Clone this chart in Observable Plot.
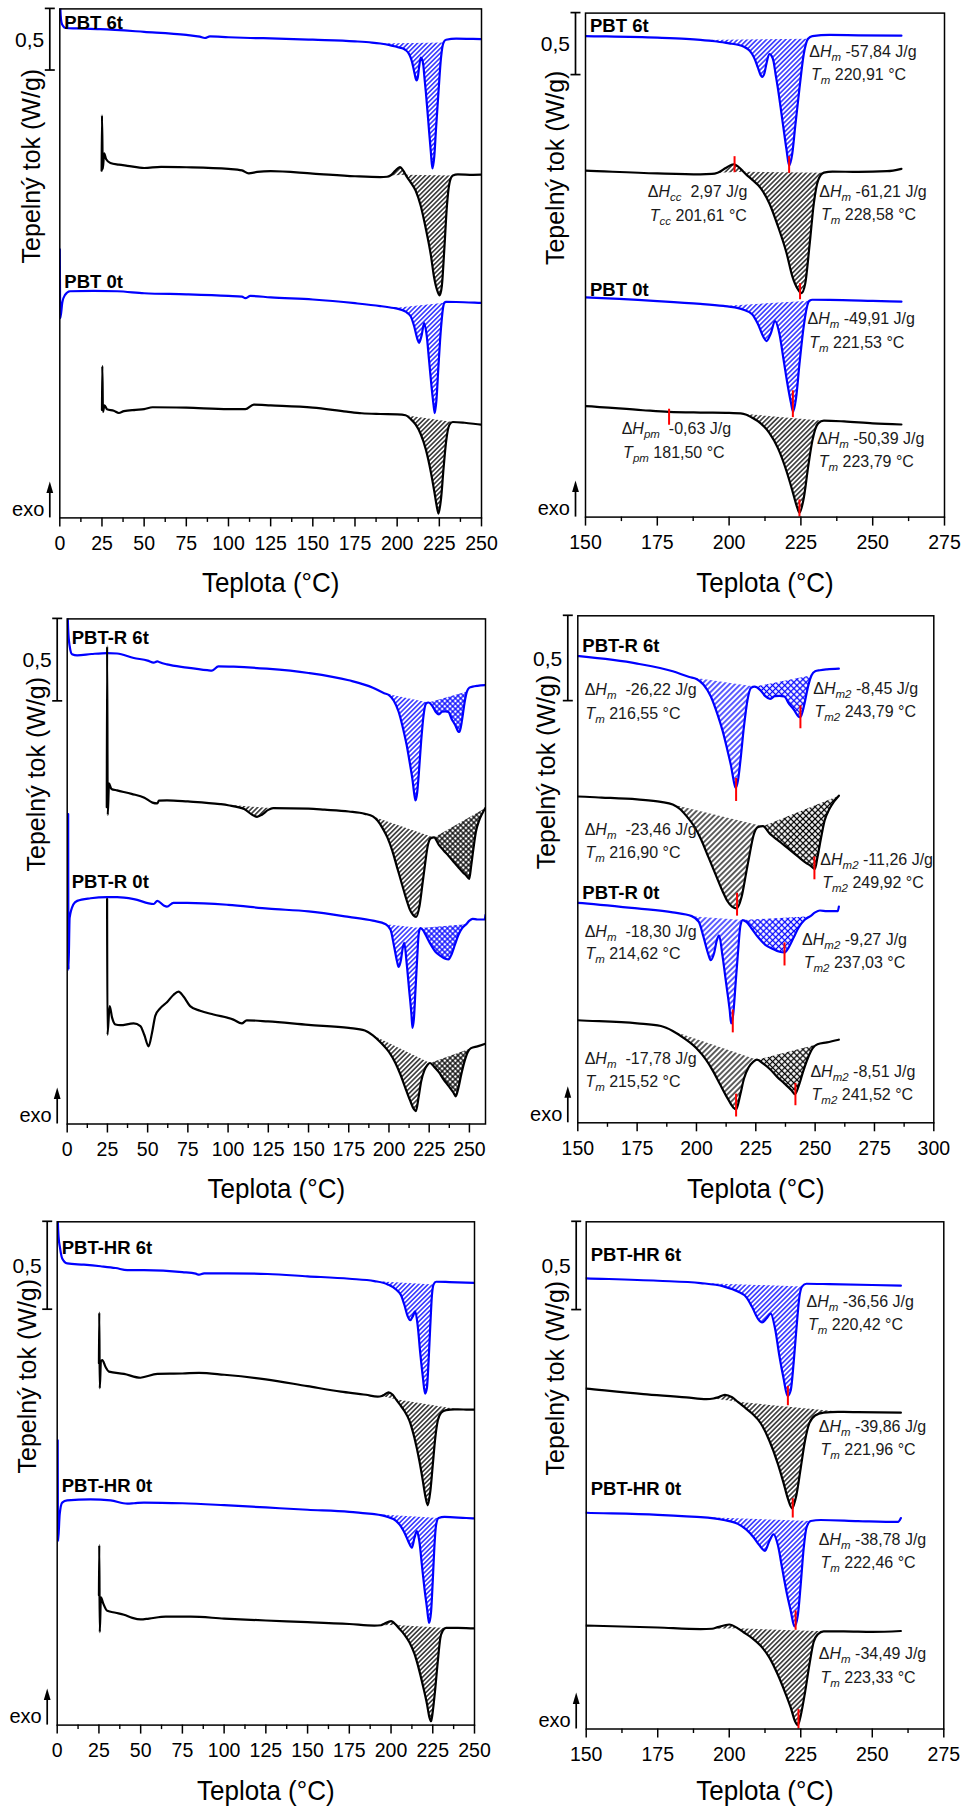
<!DOCTYPE html>
<html><head><meta charset="utf-8">
<script src="https://cdn.jsdelivr.net/npm/d3@7"></script>
<script src="https://cdn.jsdelivr.net/npm/@observablehq/plot@0.6"></script>
<style>
body{margin:0;background:#fff;}
#root{position:relative;width:966px;height:1807px;overflow:hidden;}
</style></head><body><div id="root"></div>
<script>
// ---------------- DATA (temperature °C, heat flow W/g, curves offset as in the figure) ----------------
const ticksLeft  = [0,25,50,75,100,125,150,175,200,225,250];
const ticksRight = [150,175,200,225,250,275];
const ticksWide  = [150,175,200,225,250,275,300];

// PBT
const pbt6tBlue = [[0,4.25],[0.5,4.08],[1,4.02],[2,3.99],[3.4,3.975],[10,3.972],[24,3.966],[50,3.944],[75,3.919],[83,3.905],[86,3.894],[89,3.907],[100,3.9],[113,3.894],[125,3.891],[150,3.88],[175,3.867],[185,3.857],[190,3.849],[195,3.838],[200,3.821],[203,3.81],[205,3.796],[207,3.765],[208,3.735],[209,3.69],[210,3.627],[211,3.565],[211.5,3.55],[212.3,3.58],[213,3.657],[214,3.735],[214.8,3.72],[215.5,3.673],[216.2,3.57],[217,3.457],[218.5,3.21],[220,2.963],[220.9,2.835],[222,2.932],[223,3.148],[224.5,3.457],[226,3.735],[227.5,3.858],[229,3.88],[235,3.889],[245,3.886],[260,3.883]];
const pbt6tBlack = [[24.8,2.817],[25,3.267],[25.5,2.832],[26.3,2.957],[27.5,2.91],[30,2.88],[35,2.866],[40,2.857],[50,2.839],[60,2.848],[75,2.845],[100,2.832],[108,2.82],[112,2.795],[117,2.807],[125,2.814],[150,2.794],[175,2.772],[190,2.765],[194,2.768],[196,2.778],[199,2.818],[201.6,2.846],[204,2.809],[205,2.785],[206,2.762],[208,2.722],[211,2.654],[214,2.531],[217,2.346],[220,2.13],[222,1.944],[224,1.836],[225.2,1.806],[226.5,1.883],[228,2.191],[229.5,2.531],[231,2.716],[233,2.778],[236,2.787],[245,2.784],[255,2.79],[260,2.809]];
const pbt0tBlue = [[0,2.18],[0.3,1.621],[1.5,1.75],[3,1.807],[6,1.839],[20,1.842],[34,1.839],[50,1.823],[75,1.814],[100,1.801],[108,1.795],[110,1.783],[113,1.801],[125,1.789],[150,1.772],[175,1.742],[190,1.719],[198,1.703],[200,1.698],[205,1.673],[208,1.636],[210,1.559],[212,1.451],[213,1.42],[214.5,1.481],[216,1.58],[217.5,1.481],[219,1.265],[220.5,1.049],[221.5,0.926],[222.3,0.849],[223.3,0.957],[224.5,1.235],[226,1.543],[227.5,1.728],[228,1.745],[229,1.753],[235,1.752],[250,1.744],[260,1.738]];
const pbt0tBlack = [[25,0.876],[25.2,1.233],[25.6,0.86],[26.5,0.913],[28,0.882],[32,0.87],[35,0.851],[38,0.866],[45,0.876],[50,0.882],[55,0.898],[75,0.894],[100,0.882],[110,0.882],[115,0.919],[125,0.913],[150,0.895],[170,0.862],[179,0.849],[190,0.843],[200,0.84],[205,0.833],[208,0.802],[211,0.756],[214,0.679],[217,0.556],[220,0.37],[222,0.216],[223.5,0.093],[224.5,0.035],[226,0.154],[227.5,0.401],[229,0.617],[231,0.756],[233,0.778],[240,0.772],[250,0.756],[260,0.747]];
const pbtPeaks = [[0,190,227.5,"line"],[1,196,205,"line"],[1,205,233,"line"],[2,198,228,"line"],[3,205,233,"line"]];
const pbtReds = [[201.9,2.907,2.778],[220.9,2.907,2.772],[224.7,1.883,1.753],[222.2,1.019,0.802],[179.1,0.87,0.741],[224.5,0.139,0.0]];
const pbtNotes = [
 [227.9,3.75,"Δ<i>H</i><sub>m</sub> -57,84 J/g"],[228.5,3.565,"<i>T</i><sub>m</sub> 220,91 °C"],
 [171.7,2.623,"Δ<i>H</i><sub>cc</sub>  2,97 J/g"],[172.4,2.429,"<i>T</i><sub>cc</sub> 201,61 °C"],
 [231.4,2.623,"Δ<i>H</i><sub>m</sub> -61,21 J/g"],[232,2.438,"<i>T</i><sub>m</sub> 228,58 °C"],
 [227.3,1.596,"Δ<i>H</i><sub>m</sub> -49,91 J/g"],[227.9,1.404,"<i>T</i><sub>m</sub> 221,53 °C"],
 [162.6,0.71,"Δ<i>H</i><sub>pm</sub>  -0,63 J/g"],[163.1,0.515,"<i>T</i><sub>pm</sub> 181,50 °C"],
 [230.6,0.633,"Δ<i>H</i><sub>m</sub> -50,39 J/g"],[231.2,0.448,"<i>T</i><sub>m</sub> 223,79 °C"]];

// PBT-R
const pbtr6tBlue = [[0,3.2],[0.6,3.0],[1.5,2.9],[3,2.849],[6.2,2.842],[15,2.85],[24.8,2.856],[31,2.853],[41.4,2.826],[50,2.81],[53.8,2.798],[56,2.806],[57.5,2.8],[62,2.787],[74.5,2.768],[87,2.752],[90,2.749],[94,2.775],[103.5,2.773],[124,2.761],[150,2.735],[175,2.691],[190,2.646],[197,2.612],[200,2.601],[203,2.567],[206,2.5],[209,2.388],[211,2.298],[213,2.186],[214.5,2.096],[216,1.984],[216.5,1.962],[217.5,2.007],[218.5,2.119],[220,2.321],[221.5,2.478],[223,2.549],[224.5,2.556],[227,2.534],[229,2.5],[231,2.484],[233,2.5],[235,2.502],[237,2.498],[239,2.455],[241,2.422],[243,2.381],[243.8,2.377],[245.5,2.455],[247,2.556],[248.5,2.623],[250,2.646],[252,2.652],[255,2.657],[260,2.661]];
const pbtr6tBlack = [[24.6,1.921],[24.8,2.896],[25.2,1.875],[26,2.065],[27.5,2.032],[31,2.023],[40,2.002],[48,1.979],[53,1.949],[56,1.944],[57,1.961],[62,1.963],[75,1.956],[95,1.94],[100,1.933],[110,1.91],[115,1.875],[118,1.863],[121,1.875],[125,1.905],[128,1.915],[150,1.912],[160,1.906],[175,1.895],[185,1.881],[190,1.865],[193,1.839],[196,1.794],[199,1.738],[202,1.659],[205,1.558],[208,1.457],[211,1.357],[213,1.3],[215,1.267],[216.9,1.256],[219,1.323],[221,1.469],[222.5,1.581],[224,1.682],[226,1.733],[228,1.738],[231,1.693],[234,1.659],[237,1.626],[240,1.592],[243,1.558],[246,1.525],[248,1.507],[249.9,1.487],[251,1.558],[252.5,1.67],[254,1.771],[256,1.839],[258,1.883],[260,1.917]];
const pbtr0tBlue = [[0.6,1.88],[0.8,0.935],[1.5,1.25],[3.7,1.329],[6.2,1.353],[14.5,1.369],[24.8,1.376],[31,1.376],[41.4,1.364],[53.8,1.334],[56,1.353],[60,1.325],[62,1.318],[66,1.341],[74.5,1.341],[100,1.329],[125,1.306],[150,1.289],[175,1.256],[190,1.233],[198,1.211],[201,1.177],[203,1.087],[205,0.987],[206,0.953],[207.5,0.998],[208.5,1.065],[209.5,1.099],[211,0.975],[212.5,0.818],[214,0.661],[214.6,0.583],[215.5,0.639],[216.5,0.818],[217.5,0.998],[218.5,1.155],[219.5,1.188],[221,1.177],[223,1.143],[226,1.087],[229,1.043],[232,1.02],[235,1.002],[237,0.998],[239,1.031],[241,1.087],[243,1.143],[245.5,1.188],[248,1.211],[250,1.233],[252,1.244],[255,1.24],[259.5,1.24],[260,1.267]];
const pbtr0tBlack = [[24.8,1.364],[25,0.541],[26.4,0.715],[27.9,0.645],[30,0.603],[33,0.599],[41.3,0.61],[45.5,0.594],[47.9,0.541],[50.6,0.471],[52.7,0.552],[54.8,0.657],[57.9,0.703],[62,0.738],[66.1,0.784],[69.2,0.803],[72.3,0.773],[76.4,0.715],[82.6,0.687],[90.9,0.664],[103.3,0.633],[108.5,0.61],[111.6,0.629],[124.8,0.622],[150,0.601],[175,0.583],[185,0.567],[190,0.538],[195,0.493],[200,0.437],[204,0.37],[207,0.303],[210,0.224],[213,0.146],[215.5,0.09],[216.7,0.078],[218.5,0.168],[220,0.258],[222,0.325],[224,0.359],[225.5,0.37],[228,0.348],[231,0.314],[234,0.269],[237,0.231],[240,0.191],[241.5,0.168],[243,0.213],[245,0.303],[247,0.381],[249,0.437],[251,0.46],[255,0.471],[260,0.487]];
const pbtrPeaks = [[0,197,224.5,"line"],[0,224.5,248.5,"cross"],[1,95,128,"line"],[1,190,228,"line"],[1,228,260,"cross"],[2,198,219.5,"line"],[2,219.5,248,"cross"],[3,190,225.5,"line"],[3,225.5,251,"cross"]];
const pbtrReds = [[216.7,2.018,1.883],[243.8,2.444,2.309],[217.1,1.345,1.211],[249.7,1.558,1.424],[215.3,0.661,0.527],[237.1,1.054,0.919],[216.7,0.168,0.034],[241.7,0.231,0.10]];
const pbtrNotes = [
 [152.9,2.534,"Δ<i>H</i><sub>m</sub>  -26,22 J/g"],[153.2,2.399,"<i>T</i><sub>m</sub> 216,55 °C"],
 [249.2,2.54,"Δ<i>H</i><sub>m2</sub> -8,45 J/g"],[249.7,2.406,"<i>T</i><sub>m2</sub> 243,79 °C"],
 [152.9,1.715,"Δ<i>H</i><sub>m</sub>  -23,46 J/g"],[153.2,1.581,"<i>T</i><sub>m</sub> 216,90 °C"],
 [252.2,1.54,"Δ<i>H</i><sub>m2</sub> -11,26 J/g"],[253,1.406,"<i>T</i><sub>m2</sub> 249,92 °C"],
 [152.9,1.121,"Δ<i>H</i><sub>m</sub>  -18,30 J/g"],[153.2,0.987,"<i>T</i><sub>m</sub> 214,62 °C"],
 [244.5,1.07,"Δ<i>H</i><sub>m2</sub> -9,27 J/g"],[245.2,0.935,"<i>T</i><sub>m2</sub> 237,03 °C"],
 [152.9,0.377,"Δ<i>H</i><sub>m</sub>  -17,78 J/g"],[153.2,0.242,"<i>T</i><sub>m</sub> 215,52 °C"],
 [248,0.298,"Δ<i>H</i><sub>m2</sub> -8,51 J/g"],[248.5,0.161,"<i>T</i><sub>m2</sub> 241,52 °C"]];

// PBT-HR
const pbthr6tBlue = [[0,3.1],[0.3,2.9],[0.8,2.78],[1.6,2.72],[3,2.654],[6,2.626],[16,2.619],[26,2.61],[35,2.6],[42,2.588],[52,2.588],[75,2.577],[83,2.568],[85,2.562],[88,2.57],[102,2.57],[126,2.566],[150,2.553],[175,2.539],[190,2.526],[198,2.507],[203,2.478],[206,2.445],[208,2.39],[210,2.325],[211.5,2.303],[213,2.325],[214.5,2.353],[216,2.27],[217.5,2.116],[219,1.985],[220.4,1.886],[221.5,1.919],[222.5,2.072],[223.5,2.27],[224.5,2.445],[225.5,2.507],[227,2.522],[235,2.52],[250,2.515],[260,2.511]];
const pbthr6tBlack = [[25,2.059],[25.2,2.346],[25.5,1.916],[26.2,2.07],[27,2.077],[29,2.037],[31,2.011],[40,1.998],[50,1.976],[52,1.98],[60,1.998],[75,2.0],[85,2.004],[100,1.993],[125,1.967],[150,1.928],[170,1.897],[185,1.879],[192,1.868],[194.5,1.872],[196,1.879],[198.5,1.893],[201,1.879],[203,1.853],[205,1.827],[208,1.787],[211,1.732],[214,1.634],[217,1.502],[219,1.393],[220.5,1.305],[222,1.25],[223.5,1.327],[225,1.48],[226.5,1.634],[228,1.732],[230,1.776],[233,1.792],[238,1.796],[240,1.796],[245,1.795],[260,1.792]];
const pbthr0tBlue = [[0.3,1.62],[0.5,1.046],[1.5,1.2],[3,1.266],[6,1.278],[20,1.284],[32,1.278],[42,1.26],[46,1.262],[52,1.266],[75,1.262],[100,1.251],[125,1.238],[150,1.225],[175,1.213],[185,1.204],[190,1.2],[198,1.184],[203,1.162],[206,1.129],[208.5,1.086],[210.5,1.042],[212.5,1.009],[214,1.064],[215.5,1.103],[217,1.042],[218.5,0.91],[220,0.779],[221.5,0.669],[222.8,0.581],[224,0.647],[225,0.822],[226,1.02],[227,1.14],[228.5,1.178],[232,1.184],[245,1.178],[259,1.173],[260,1.195]];
const pbthr0tBlack = [[25,0.738],[25.2,1.024],[25.5,0.529],[26.2,0.727],[27.5,0.694],[30,0.65],[35,0.639],[40,0.628],[45,0.61],[50,0.601],[55,0.606],[65,0.617],[80,0.617],[100,0.606],[125,0.595],[150,0.586],[175,0.575],[190,0.566],[194,0.568],[196,0.577],[200,0.592],[203,0.57],[205,0.548],[208,0.515],[211,0.471],[214,0.406],[217,0.307],[219.5,0.208],[221.5,0.121],[223,0.044],[224,0.022],[225,0.077],[226.5,0.208],[228,0.362],[229.5,0.493],[231,0.537],[233,0.553],[240,0.553],[250,0.55],[260,0.555]];
const pbthrPeaks = [[0,190,225.5,"line"],[1,194.5,203,"line"],[1,203,240,"line"],[2,185,228.5,"line"],[3,194,203,"line"],[3,203,233,"line"]];
const pbthrReds = [[220.5,1.941,1.831],[222.2,1.305,1.195],[223.2,0.669,0.559],[224.2,0.11,0.0]];
const pbthrNotes = [
 [227,2.419,"Δ<i>H</i><sub>m</sub> -36,56 J/g"],[227.5,2.287,"<i>T</i><sub>m</sub> 220,42 °C"],
 [231.3,1.711,"Δ<i>H</i><sub>m</sub> -39,86 J/g"],[231.9,1.579,"<i>T</i><sub>m</sub> 221,96 °C"],
 [231.3,1.07,"Δ<i>H</i><sub>m</sub> -38,78 J/g"],[231.9,0.939,"<i>T</i><sub>m</sub> 222,46 °C"],
 [231.3,0.423,"Δ<i>H</i><sub>m</sub> -34,49 J/g"],[231.9,0.292,"<i>T</i><sub>m</sub> 223,33 °C"]];

// ---------------- STYLE / LAYOUT ----------------
const BLUE = "#0000ff", BLACK = "#000000", RED = "#ff0000";
const FONT = '"Liberation Sans", Arial, Helvetica, sans-serif';

const samples = {
  "PBT":    {curves: [[pbt6tBlue, BLUE], [pbt6tBlack, BLACK], [pbt0tBlue, BLUE], [pbt0tBlack, BLACK]], peaks: pbtPeaks},
  "PBT-R":  {curves: [[pbtr6tBlue, BLUE], [pbtr6tBlack, BLACK], [pbtr0tBlue, BLUE], [pbtr0tBlack, BLACK]], peaks: pbtrPeaks},
  "PBT-HR": {curves: [[pbthr6tBlue, BLUE], [pbthr6tBlack, BLACK], [pbthr0tBlue, BLUE], [pbthr0tBlack, BLACK]], peaks: pbthrPeaks}
};

const panels = [
 {sample:"PBT", left:0, top:0, width:490, height:600, mt:8.4, mr:9, mb:82.6, ml:59.3, xDomain:[0,250], yMax:4.13, ticks:ticksLeft, labels:[["PBT 6t",4.019],["PBT 0t",1.916]], ylabDx:-28.3, titleDy:73.8, hatch:3.3},
 {sample:"PBT", left:490, top:0, width:476, height:600, mt:12.6, mr:22, mb:83.4, ml:95, xDomain:[150,275], yMax:4.065, ticks:ticksRight, labels:[["PBT 6t",3.957],["PBT 0t",1.83]], ylabDx:-30, titleDy:74.6, notes:pbtNotes, reds:pbtReds, hatch:3.4},
 {sample:"PBT-R", left:0, top:600, width:490, height:605, mt:18.4, mr:5, mb:81.5, ml:66.7, xDomain:[0,260], yMax:3.063, ticks:ticksLeft, labels:[["PBT-R 6t",2.949],["PBT-R 0t",1.469]], ylabDx:-29.7, titleDy:73.5, hatch:3.4},
 {sample:"PBT-R", left:490, top:600, width:476, height:605, mt:15.3, mr:32.7, mb:82.7, ml:87.3, xDomain:[150,300], yMax:2.971, ticks:ticksWide, labels:[["PBT-R 6t",2.791],["PBT-R 0t",1.345]], ylabDx:-30.8, titleDy:74.7, notes:pbtrNotes, reds:pbtrReds, hatch:3.9},
 {sample:"PBT-HR", left:0, top:1205, width:490, height:602, mt:16.3, mr:16, mb:82.4, ml:56.7, xDomain:[0,250], yMax:2.863, ticks:ticksLeft, labels:[["PBT-HR 6t",2.716],["PBT-HR 0t",1.361]], ylabDx:-29.7, titleDy:74.6, hatch:3.3},
 {sample:"PBT-HR", left:490, top:1205, width:476, height:602, mt:16.3, mr:22.7, mb:78.5, ml:95.7, xDomain:[150,275], yMax:2.873, ticks:ticksRight, labels:[["PBT-HR 6t",2.682],["PBT-HR 0t",1.36]], ylabDx:-30.2, titleDy:71.3, notes:pbthrNotes, reds:pbthrReds, hatch:3.4}
];

function minorOf(ticks, dom) {
  const m = [];
  for (let i = 0; i < ticks.length; i++) {
    const v = ticks[i] + 12.5;
    if (v <= dom[1]) m.push(v);
  }
  return m;
}

function addPattern(defs, id, color, cross, size) {
  const p = defs.append("pattern").attr("id", id).attr("patternUnits", "userSpaceOnUse")
    .attr("width", size).attr("height", size).attr("patternTransform", "rotate(45)");
  p.append("line").attr("x1", size / 2).attr("x2", size / 2).attr("y1", -1).attr("y2", size + 1)
    .attr("stroke", color).attr("stroke-width", 1.25);
  if (cross) p.append("line").attr("y1", size / 2).attr("y2", size / 2).attr("x1", -1).attr("x2", size + 1)
    .attr("stroke", color).attr("stroke-width", 1.25);
}

function makePanel(p, idx) {
  const s = samples[p.sample];
  const uid = "pn" + idx;
  const X = d => d[0], Y = d => d[1];
  const marks = [];
  marks.push(() => {
    const defs = d3.create("svg:defs");
    addPattern(defs, "hb-" + uid, BLUE, false, p.hatch);
    addPattern(defs, "hk-" + uid, BLACK, false, p.hatch);
    addPattern(defs, "xb-" + uid, BLUE, true, p.hatch * 1.1);
    addPattern(defs, "xk-" + uid, BLACK, true, p.hatch * 1.1);
    return defs.node();
  });
  for (const [ci, a, b, kind] of s.peaks) {
    const [data, color] = s.curves[ci];
    const seg = data.filter(d => d[0] >= a && d[0] <= b);
    const pid = (kind === "cross" ? "x" : "h") + (color === BLUE ? "b" : "k") + "-" + uid;
    marks.push(Plot.line(seg, {x: X, y: Y, fill: `url(#${pid})`, stroke: "none", curve: "monotone-x", clip: true}));
  }
  for (const [data, color] of s.curves) {
    marks.push(Plot.line(data, {x: X, y: Y, stroke: color, strokeWidth: 2.2, curve: "monotone-x", clip: true}));
  }
  if (p.reds) marks.push(Plot.ruleX(p.reds, {x: d => d[0], y1: d => d[1], y2: d => d[2], stroke: RED, strokeWidth: 2}));
  marks.push(Plot.text(p.labels, {x: () => p.xDomain[0], y: d => d[1], text: d => d[0], textAnchor: "start", dx: 4.5, fontWeight: "bold", fontSize: 18.5, fill: "#000"}));
  if (p.notes) marks.push(Plot.text(p.notes, {x: d => d[0], y: d => d[1], text: d => d[2], textAnchor: "start", fontSize: 16, fill: "#1a1a1a"}));
  marks.push(Plot.frame({stroke: "#000", strokeWidth: 1.5}));
  marks.push(Plot.axisX(p.ticks, {tickSize: 9, tickPadding: 9.5, label: null, strokeWidth: 1.5}));
  marks.push(Plot.axisX(minorOf(p.ticks, p.xDomain), {tickSize: 4.5, tickFormat: () => "", label: null, strokeWidth: 1.4}));
  marks.push(Plot.text(["Teplota (°C)"], {frameAnchor: "bottom", lineAnchor: "bottom", dy: p.titleDy, fontSize: 26, text: d => d, fill: "#000"}));
  marks.push(Plot.text(["Tepelný tok (W/g)"], {frameAnchor: "left", rotate: -90, dx: p.ylabDx, fontSize: 25, text: d => d, fill: "#000"}));
  marks.push((index, scales, values, dims) => {
    const sy = scales && typeof scales.y === "function" ? scales.y
      : (v => p.mt + (1 - v / p.yMax) * (p.height - p.mt - p.mb));
    const g = d3.create("svg:g").attr("stroke", "#000").attr("fill", "#000");
    const bx = dims.marginLeft - 9.5;
    const yb = dims.height - dims.marginBottom;
    const y0 = sy(p.yMax), y1 = sy(p.yMax - 0.5);
    g.append("line").attr("x1", bx).attr("x2", bx).attr("y1", y0).attr("y2", y1).attr("stroke-width", 1.7);
    for (const yy of [y0, y1]) g.append("line").attr("x1", bx - 5).attr("x2", bx + 5).attr("y1", yy).attr("y2", yy).attr("stroke-width", 1.7);
    g.append("text").attr("x", bx - 5.5).attr("y", (y0 + y1) / 2).attr("dy", "0.36em").attr("text-anchor", "end")
      .attr("font-size", 21).attr("stroke", "none").text("0,5");
    g.append("line").attr("x1", bx).attr("x2", bx).attr("y1", yb).attr("y2", yb - 26).attr("stroke-width", 1.7);
    g.append("path").attr("d", `M${bx},${yb - 36}L${bx - 3.4},${yb - 24.5}L${bx + 3.4},${yb - 24.5}Z`).attr("stroke", "none");
    g.append("text").attr("x", bx - 5.5).attr("y", yb - 1.5).attr("text-anchor", "end")
      .attr("font-size", 20).attr("stroke", "none").text("exo");
    return g.node();
  });

  return Plot.plot({
    width: p.width, height: p.height,
    marginTop: p.mt, marginRight: p.mr, marginBottom: p.mb, marginLeft: p.ml,
    x: {domain: p.xDomain, label: null},
    y: {domain: [0, p.yMax], axis: null},
    style: {fontFamily: FONT, fontSize: "19.5px", color: "#000", background: "transparent", overflow: "visible"},
    marks
  });
}

const SVGNS = "http://www.w3.org/2000/svg";
function richify(svg) {
  svg.querySelectorAll("text").forEach(t => {
    const s = t.textContent;
    if (s === "Teplota (°C)") {
      const tr = t.getAttribute("transform") || "";
      t.setAttribute("transform", (tr + " scale(1,1.08)").trim());
      return;
    }
    if (!s.includes("<")) return;
    t.textContent = "";
    t.style.whiteSpace = "pre";
    const parts = s.split(/(<i>[^<]*<\/i>|<sub>[^<]*<\/sub>)/).filter(q => q !== "");
    let shifted = false;
    for (const q of parts) {
      const ts = document.createElementNS(SVGNS, "tspan");
      let m;
      if ((m = q.match(/^<sub>([^<]*)<\/sub>$/))) {
        ts.textContent = m[1];
        ts.setAttribute("font-style", "italic");
        ts.setAttribute("font-size", "11.5");
        ts.setAttribute("dy", "4");
        shifted = true;
      } else {
        if ((m = q.match(/^<i>([^<]*)<\/i>$/))) {
          ts.textContent = m[1];
          ts.setAttribute("font-style", "italic");
        } else {
          ts.textContent = q;
        }
        if (shifted) { ts.setAttribute("dy", "-4"); shifted = false; }
      }
      t.appendChild(ts);
    }
  });
}

const root = document.getElementById("root");
panels.forEach((p, i) => {
  const svg = makePanel(p, i);
  const wrap = document.createElement("div");
  wrap.style.cssText = `position:absolute;left:${p.left}px;top:${p.top}px;width:${p.width}px;height:${p.height}px;`;
  wrap.appendChild(svg);
  root.appendChild(wrap);
  richify(svg);
});
</script></body></html>
